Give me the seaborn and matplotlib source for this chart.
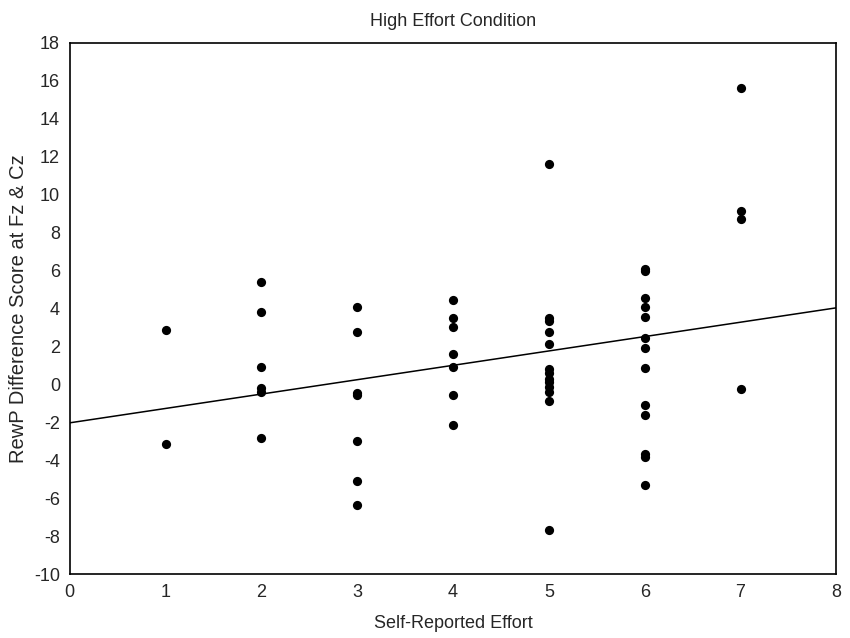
import numpy as np
import pandas as pd
import matplotlib
matplotlib.use("Agg")
import matplotlib.pyplot as plt
import seaborn as sns

# Valeurs
effort_1 = [2.85, -3.15]
effort_2 = [5.38, 3.8, 0.93, -0.17, -0.38, -2.8]
effort_3 = [4.08, 2.74, -0.45, -0.55, -2.96, -5.07, -6.38]
effort_4 = [4.45, 3.48, 3.04, 1.6, 0.93, -0.57, -2.15]
effort_5 = [11.6, 3.51, 3.34, 2.76, 2.13, 0.8, 0.6, 0.28, 0.1, -0.15, -0.4, -0.87, -7.65]
effort_6 = [6.08, 6.0, 4.53, 4.09, 3.53, 2.47, 1.9, 0.85, -1.06, -1.6, -3.68, -3.8, -5.31]
effort_7 = [15.61, 9.16, 8.72, -0.25]

groupes = [effort_1, effort_2, effort_3, effort_4, effort_5, effort_6, effort_7]
effort = []
rewp = []
for niveau, valeurs in enumerate(groupes, start=1):
    effort += [niveau] * len(valeurs)
    rewp += valeurs
donnees = pd.DataFrame({"effort": effort, "rewp": rewp})

sns.set_style("white")
plt.rcParams["font.family"] = ["Liberation Sans", "DejaVu Sans"]
plt.rcParams["axes.unicode_minus"] = False

fig = plt.figure(figsize=(8.5, 6.38), dpi=100)
ax = fig.add_axes([0.082, 0.100, 0.902, 0.833])
# limites fixées avant regplot pour que la droite couvre tout l'axe
ax.set_xlim(0, 8)
ax.set_ylim(-10, 18)

sns.regplot(data=donnees, x="effort", y="rewp", ax=ax, ci=None, truncate=False,
            scatter_kws={"s": 44, "color": "black", "alpha": 1, "linewidths": 0},
            line_kws={"color": "black", "linewidth": 1.1})

ax.set_xlim(0, 8)
ax.set_ylim(-10, 18)
ax.set_xticks(range(0, 9))
ax.set_yticks(range(-10, 19, 2))
ax.set_xticks(np.arange(0, 8.01, 0.5), minor=True)
ax.set_yticks(range(-10, 19, 1), minor=True)
ax.tick_params(which="major", direction="in", length=3, width=1, labelsize=13,
               color="black", pad=7)
ax.tick_params(which="minor", direction="in", length=2, width=1, color="black")
for spine in ax.spines.values():
    spine.set_color("black")
    spine.set_linewidth(1.2)

ax.set_title("High Effort Condition", fontsize=13, pad=12)
ax.set_xlabel("Self-Reported Effort", fontsize=13, labelpad=10)
ax.set_ylabel("RewP Difference Score at Fz & Cz", fontsize=14.5, labelpad=4)

fig.savefig("out.png", dpi=100)
